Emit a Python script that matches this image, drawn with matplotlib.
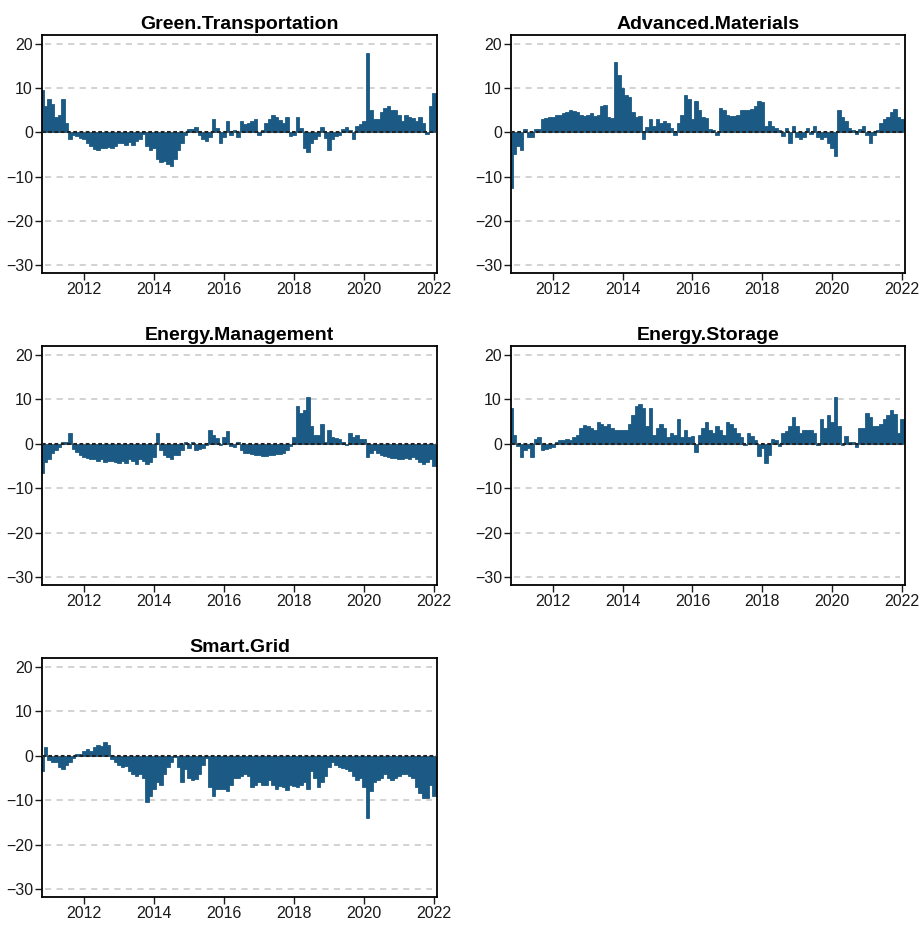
import numpy as np
import matplotlib
matplotlib.use('Agg')
import matplotlib.pyplot as plt

plt.rcParams['font.family'] = ['Liberation Sans', 'DejaVu Sans']

# time axis: one value every 0.1 year from 2010.8 to 2022.0
years = np.round(np.arange(2010.8, 2022.05, 0.1), 2)

green_transportation = [
    9.5, 6, 7.5, 6.5, 3.5, 4, 7.5, 2, -1.5, -0.5,
    -0.8, -1.2, -1.5, -2.5, -3, -3.8, -4, -3.5, -3.5, -3.3,
    -3.5, -3, -2.5, -2.5, -2.8, -2.2, -2.8, -2, -1.5, -0.3,
    -3, -4, -3.5, -6, -6.8, -6.5, -7.2, -7.5, -6, -4,
    -2.5, -0.5, 0.7, 0.8, 1.2, -0.6, -1.5, -2, -1, 3,
    1, -2.5, -1, 2.5, -0.5, 0.5, -1, 2.5, 1.8, 2,
    2.5, 3, -0.5, 0.5, 2, 3, 4, 3.5, 2.8, 2,
    3.5, -0.8, -0.5, 3.5, 1, -3.5, -4.5, -2.5, -1.5, -0.8,
    1.2, -1.2, -4, -1.5, -0.8, -0.6, 0.8, 1.3, 0.5, -1.5,
    1.5, 1.8, 2.5, 18, 5, 3, 3, 4.5, 5.5, 6,
    5, 5, 4, 2.5, 4, 3.5, 3.3, 2.5, 3.5, 2,
    -0.3, 6, 9,
]

advanced_materials = [
    -12.5, -5, -3, -4, 0.8, -1, -1, 0.8, 0.8, 3,
    3.3, 3.5, 3.5, 4, 4, 4.3, 4.5, 5, 4.8, 4.5,
    4, 3.8, 4, 4.3, 3.8, 4, 6, 6.2, 3.5, 3.3,
    16, 13, 10, 8.5, 8, 4.5, 3.5, 3.8, -1.5, 1.2,
    3, 1.5, 3, 2, 2.5, 2.2, 1, -0.7, 2, 4,
    8.5, 7.5, 3, 7, 5, 3.5, 3.3, 0.8, 0.5, -0.5,
    5.5, 5, 4, 3.8, 3.8, 4, 5, 5, 5, 5.3,
    6, 7, 6.8, 1.5, 2.5, 1.5, 1, 0.5, -0.8, 1,
    -2.5, 1.5, -1, -1.5, -1, 1, -0.3, 1.5, -1, -1.5,
    -1, -2.5, -3.5, -5.3, 5, 3.5, 2.5, 1, 0.5, -0.3,
    0.8, 1.5, -0.5, -2.5, -0.5, 0.5, 2, 3, 3.5, 4.5,
    5.3, 3.5, 3,
]

energy_management = [
    -6.5, -4, -3.5, -2, -1.5, -0.8, 0.3, 0.5, 2.5, -1.2,
    -1.8, -2.5, -3, -3.3, -3.5, -3.5, -3.8, -3.5, -4, -3.8,
    -3.8, -4.2, -4.3, -3.8, -4.3, -3.5, -3.8, -4.5, -3.5, -3.8,
    -4.5, -4, -3, 2.5, -1.5, -2.5, -3, -3.5, -2.5, -2.5,
    -1.5, 0.5, -1, 0.5, -1.5, -1.2, -1, -0.3, 3, 2,
    1.2, -0.3, 1.5, 2.8, -0.5, -0.8, 0.5, -1.5, -2, -2,
    -2.3, -2.5, -2.5, -2.8, -2.8, -2.5, -2.5, -2.3, -2.2, -2,
    -1.5, -0.5, 1.5, 8.5, 7, 7.5, 10.5, 4, 2, 2,
    4.5, 0.5, 3, 1.5, 1.2, 1, 0.3, -0.3, 2.5, 1.5,
    2, 1, 1, -3, -2, -1.5, -2, -2.5, -2.8, -3,
    -3.2, -3.3, -3.5, -3.5, -3.3, -3.5, -3, -3.5, -4.2, -4.5,
    -4, -3.5, -5,
]

energy_storage = [
    8, 2, -0.5, -3, -1.5, -1, -3, 1, 1.5, -1.5,
    -1.2, -1, -0.8, 0.5, 0.8, 0.8, 1, 0.8, 1.5, 2,
    3.5, 4.2, 4, 3.5, 3, 5, 4.5, 4, 4.5, 3.5,
    3, 3.2, 3, 3, 4.5, 6.5, 8.5, 9, 8, 4,
    8, 2, 3.5, 4.5, 3.5, 1.5, 2.5, 2, 5.5, 1.5,
    3, 1.5, 1.8, -1.8, 2, 3.5, 5, 3, 2.5, 4,
    3, 2, 5, 4.5, 3.5, 2.5, 1.5, -0.3, 2.5, 1.8,
    0.8, -2.8, -1, -4.3, -2.5, 1, 0.8, -0.5, 2.5, 2.8,
    4, 6, 4, 2.5, 3, 3.2, 3, 2.5, -0.3, 5.5,
    3.5, 6.5, 5, 10.5, 4, -0.3, 1.8, 0.5, 0.5, -0.8,
    3.5, 3.5, 7, 6, 4, 4, 4.5, 5.5, 6.5, 7.5,
    6.8, 2.5, 5.5,
]

smart_grid = [
    -3.5, 2, -1, -1.5, -1.5, -2.5, -3, -2, -1.5, -0.5,
    0.5, 0.3, 1, 1.5, 1, 2, 2.5, 2.3, 3, 2.5,
    -0.8, -1.5, -2, -2.5, -2.2, -3.5, -4, -4.5, -4, -5,
    -10.5, -9, -7.5, -6, -6.5, -4, -2.5, -1.5, -0.3, -2.5,
    -6, -3, -5, -5.5, -5.3, -4, -2, -0.5, -7, -9,
    -7.5, -7.5, -7.5, -8, -6.5, -5, -5, -4.5, -4, -4.5,
    -7, -6.5, -6, -6.5, -6.5, -5.5, -6.5, -7.5, -6.8, -7,
    -7.8, -6.5, -6.8, -7, -6.5, -6, -7.5, -3.5, -5, -7,
    -6, -4.5, -2.5, -1.5, -2, -2.5, -2.8, -3, -3.5, -4.5,
    -5.5, -5, -7, -14, -8, -6, -5.5, -5, -4, -5,
    -5.5, -5, -4.5, -4, -4.2, -4.5, -5, -7, -8.5, -9.5,
    -9.5, -6.5, -9,
]

titles = ['Green.Transportation', 'Advanced.Materials', 'Energy.Management',
          'Energy.Storage', 'Smart.Grid']
series = [green_transportation, advanced_materials, energy_management,
          energy_storage, smart_grid]
xticks = [2012, 2014, 2016, 2018, 2020, 2022]
yticks = [-30, -20, -10, 0, 10, 20]

W, H = 922, 926
fig = plt.figure(figsize=(W / 100, H / 100), dpi=100)

# panel boxes in pixels: left, right, top, bottom
boxes = [
    (42, 437, 35, 273),
    (511, 905, 35, 273),
    (42, 437, 346, 585),
    (511, 905, 346, 585),
    (42, 437, 658, 897),
]

fill_col = '#1b5a84'

for (l, r, t, b), title, vals in zip(boxes, titles, series):
    ax = fig.add_axes([l / W, 1 - b / H, (r - l) / W, (b - t) / H])
    for yv in yticks:
        if yv != 0:
            ax.plot([2010.9, 2021.95], [yv, yv], color='#cfcfcf', lw=1.3,
                    ls=(0, (3.4, 3.0)), zorder=1)
    ax.bar(years, vals, width=0.1, color=fill_col, edgecolor=fill_col,
           lw=0.6, zorder=2)
    ax.axhline(0, color='#222222', lw=1.5, ls=(0, (1.8, 1.2)), zorder=3)
    ax.set_xlim(2010.8, 2022.09)
    ax.set_ylim(-31.8, 22)
    ax.set_xticks(xticks)
    ax.set_yticks(yticks)
    ax.tick_params(length=5, width=1, pad=1.5, labelsize=11.5, colors='#1a1a1a')
    for s in ax.spines.values():
        s.set_linewidth(1.3)
        s.set_color('black')
    ax.set_title(title, fontsize=14, fontweight='bold', pad=4)

fig.savefig('out.png', dpi=100)
